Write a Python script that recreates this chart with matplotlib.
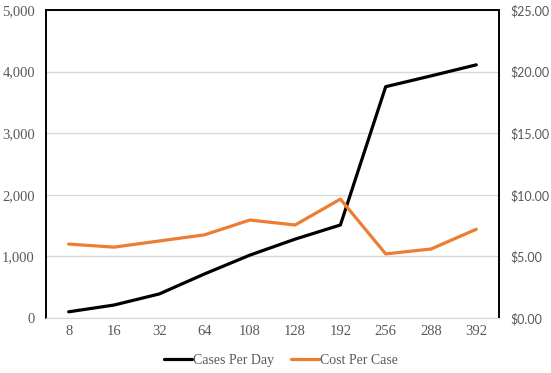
import matplotlib.pyplot as plt
from matplotlib.ticker import FuncFormatter

categorias = ['8', '16', '32', '64', '108', '128', '192', '256', '288', '392']
casos_por_dia = [100, 210, 390, 715, 1020, 1280, 1510, 3755, 3930, 4110]
custo_por_caso = [6.0, 5.75, 6.25, 6.75, 7.95, 7.55, 9.65, 5.2, 5.6, 7.2]

cinza = '#595959'
laranja = '#ED7D31'

fig = plt.figure(figsize=(5.51, 3.73), dpi=100)
ax = fig.add_axes([0.0835, 0.1475, 0.822, 0.8257])
ax2 = ax.twinx()

x = range(len(categorias))
l1, = ax.plot(x, casos_por_dia, color='black', lw=2.3, label='Cases Per Day', solid_capstyle='round')
l2, = ax2.plot(x, custo_por_caso, color=laranja, lw=2.3, label='Cost Per Case', solid_capstyle='round')

ax.set_xlim(-0.5, len(categorias) - 0.5)
ax.set_ylim(0, 5000)
ax2.set_ylim(0, 25)
ax.set_yticks(range(0, 5001, 1000))
ax2.set_yticks(range(0, 26, 5))
ax.yaxis.set_major_formatter(FuncFormatter(lambda v, p: f'{int(v):,}'))
ax2.yaxis.set_major_formatter(FuncFormatter(lambda v, p: f'${v:.2f}'))
ax.set_xticks(list(x))
ax.set_xticklabels(categorias)

ax.grid(axis='y', color='#D9D9D9', lw=1)
ax.set_axisbelow(True)

for a in (ax, ax2):
    a.tick_params(length=0, colors=cinza)
    a.spines['bottom'].set_color('#D9D9D9')
    for s in ('left', 'right', 'top'):
        a.spines[s].set_color('black')
        a.spines[s].set_linewidth(1.2)

for t in ax.get_yticklabels() + ax.get_xticklabels():
    t.set_fontfamily('Liberation Serif')
    t.set_fontsize(10.5)
ax.tick_params(axis='y', pad=8)
ax.tick_params(axis='x', pad=5)
for t in ax2.get_yticklabels():
    t.set_fontfamily('Lato')
    t.set_fontsize(9)
ax2.tick_params(axis='y', pad=8)

leg = fig.legend(handles=[l1, l2], loc='center', bbox_to_anchor=(0.51, 0.033), ncol=2,
                 frameon=False, prop={'family': 'Liberation Serif', 'size': 10},
                 handlelength=2.0, handletextpad=0.1, columnspacing=1.2)
for t in leg.get_texts():
    t.set_color(cinza)

fig.savefig('out.png', dpi=100)
